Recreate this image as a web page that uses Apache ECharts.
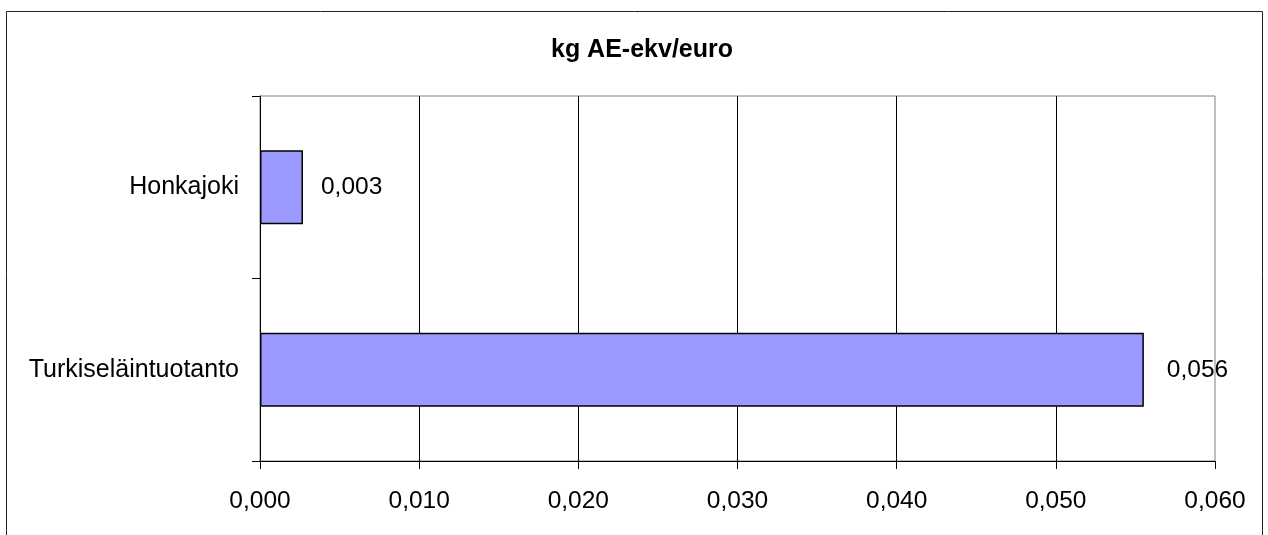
<!DOCTYPE html>
<html>
<head>
<meta charset="utf-8">
<script src="https://cdn.jsdelivr.net/npm/echarts@6/dist/echarts.min.js"></script>
<style>
html,body{margin:0;padding:0;background:#fff;}
#c{width:1268px;height:535px;}
</style>
</head>
<body>
<div id="c"></div>
<script>
const title = 'kg AE-ekv/euro';
const categories = ['Turkiseläintuotanto', 'Honkajoki'];
const values = [0.05553, 0.0027];
const labelGaps = [23, 18];
const xTicks = { min: 0, max: 0.06, interval: 0.01 };

const FONT = '"Liberation Sans", Arial, sans-serif';
const fmt = v => v.toFixed(3).replace('.', ',');

const chart = echarts.init(document.getElementById('c'), null, { renderer: 'canvas' });
chart.setOption({
  animation: false,
  backgroundColor: '#fff',
  textStyle: { fontFamily: FONT, color: '#000' },
  title: {
    text: title,
    left: 637, top: 33, textAlign: 'center',
    textStyle: { fontFamily: FONT, fontSize: 25, fontWeight: 'bold', color: '#000' }
  },
  graphic: [{
    type: 'rect',
    shape: { x: 6.5, y: 11.5, width: 1256, height: 600 },
    style: { fill: 'none', stroke: '#222', lineWidth: 1 },
    silent: true, z: 100
  }],
  grid: {
    left: 260, right: 53, top: 96, bottom: 74,
    show: true, borderColor: '#808080', borderWidth: 1, backgroundColor: '#fff'
  },
  xAxis: {
    type: 'value',
    min: xTicks.min, max: xTicks.max, interval: xTicks.interval,
    axisLine: { show: true, lineStyle: { color: '#000', width: 1 } },
    axisTick: { show: true, length: 8, lineStyle: { color: '#000' } },
    axisLabel: { margin: 28, fontSize: 24.5, color: '#000', fontFamily: FONT, formatter: v => fmt(v) },
    splitLine: { show: true, showMinLine: false, showMaxLine: false, lineStyle: { color: '#000', width: 1 } }
  },
  yAxis: {
    type: 'category',
    data: categories,
    axisLine: { show: true, lineStyle: { color: '#000', width: 1 } },
    axisTick: { show: true, length: 8, lineStyle: { color: '#000' } },
    axisLabel: { margin: 21, fontSize: 25, color: '#000', fontFamily: FONT },
    splitLine: { show: false }
  },
  series: [{
    type: 'bar',
    barWidth: 74,
    data: values.map((v, i) => ({
      value: v,
      label: { distance: labelGaps[i] }
    })),
    itemStyle: { color: '#9999FF', borderColor: '#000', borderWidth: 1.5 },
    label: {
      show: true, position: 'right', fontSize: 24.5, color: '#000', fontFamily: FONT,
      formatter: p => fmt(p.value)
    }
  }]
});
</script>
</body>
</html>
